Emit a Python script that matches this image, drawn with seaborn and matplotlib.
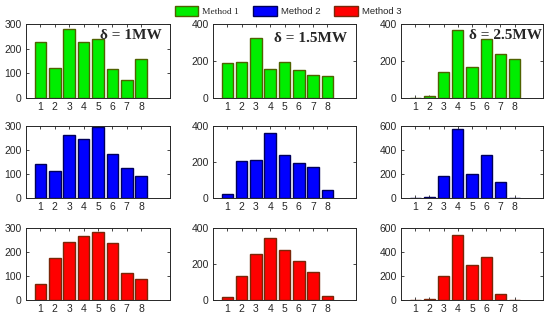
import numpy as np
import pandas as pd
import matplotlib
matplotlib.use('Agg')
import matplotlib.pyplot as plt
from matplotlib.patches import Patch
from matplotlib.font_manager import FontProperties
import seaborn as sns

sns.set_style('white')
plt.rcParams['font.family'] = ['Liberation Sans', 'DejaVu Sans']

positions = [1, 2, 3, 4, 5, 6, 7, 8]
deltas = ['δ = 1MW', 'δ = 1.5MW', 'δ = 2.5MW']
methods = ['Method 1', 'Method 2', 'Method 3']

# rows = methods, cols = delta
m1_d1 = [226, 123, 280, 226, 241, 119, 71, 157]
m1_d15 = [187, 193, 324, 155, 193, 151, 122, 118]
m1_d25 = [0, 11, 140, 369, 165, 318, 240, 209]
m2_d1 = [140, 113, 261, 247, 294, 185, 123, 90]
m2_d15 = [24, 205, 212, 359, 241, 195, 173, 42]
m2_d25 = [0, 5, 185, 578, 196, 357, 133, 2]
m3_d1 = [66, 174, 240, 268, 283, 236, 114, 87]
m3_d15 = [16, 135, 256, 345, 278, 218, 153, 22]
m3_d25 = [0, 6, 204, 544, 293, 360, 53, 1]

values = [[m1_d1, m1_d15, m1_d25],
          [m2_d1, m2_d15, m2_d25],
          [m3_d1, m3_d15, m3_d25]]
yticks = [[0, 100, 200, 300], [0, 200, 400], [0, 200, 400, 600]]
row_yticks = [[yticks[0], yticks[1], yticks[1]],
              [yticks[0], yticks[1], yticks[2]],
              [yticks[0], yticks[1], yticks[2]]]

face = ['#00ee00', '#0000ff', '#ff0000']
edge = ['#4f6200', '#00005a', '#7a2608']

W, H = 550, 320
fig = plt.figure(figsize=(W / 100, H / 100), dpi=100)

col_x = [26, 213, 401]
col_w = [144, 143, 142]
row_box = [(24, 98), (126, 198), (228, 300)]
txt_pos = [(0.94, 0.85), (0.94, 0.81), (0.995, 0.85)]

for r in range(3):
    for c in range(3):
        top, bot = row_box[r]
        ax = fig.add_axes([col_x[c] / W, 1 - bot / H, col_w[c] / W, (bot - top) / H])
        df = pd.DataFrame({'pos': positions, 'val': values[r][c]})
        sns.barplot(data=df, x='pos', y='val', native_scale=True, width=0.8,
                    color=face[r], edgecolor=edge[r], linewidth=1.0,
                    saturation=1, ax=ax)
        ax.set_xlim(0, 10)
        yt = row_yticks[r][c]
        ax.set_ylim(0, yt[-1])
        ax.set_yticks(yt)
        ax.set_xticks(positions)
        ax.set_xlabel('')
        ax.set_ylabel('')
        ax.tick_params(direction='in', length=2.5, width=0.6, labelsize=7.5,
                       bottom=True, left=True, top=True, right=True,
                       colors='#262626', pad=3)
        for s in ax.spines.values():
            s.set_color('#262626')
            s.set_linewidth(0.7)
        if r == 0:
            ax.text(txt_pos[c][0], txt_pos[c][1], deltas[c], transform=ax.transAxes,
                    ha='right', va='center', fontsize=11, fontweight='bold',
                    family=['Liberation Serif', 'DejaVu Serif'], zorder=5)

handles = [Patch(facecolor=face[i], edgecolor=edge[i], linewidth=1.0) for i in range(3)]
leg = fig.legend(handles, methods, loc='center', bbox_to_anchor=(288 / W, 1 - 11 / H),
                 ncol=3, frameon=False, fontsize=6.8, handlelength=2.5,
                 handleheight=1.4, handletextpad=0.4, columnspacing=1.5,
                 borderaxespad=0, borderpad=0)
leg.get_texts()[0].set_fontproperties(
    FontProperties(family=['Liberation Serif', 'DejaVu Serif'], size=6.8))
for t in leg.get_texts()[1:]:
    t.set_fontproperties(FontProperties(family=['Liberation Sans', 'DejaVu Sans'], size=6.8))

fig.savefig('out.png', dpi=100)
